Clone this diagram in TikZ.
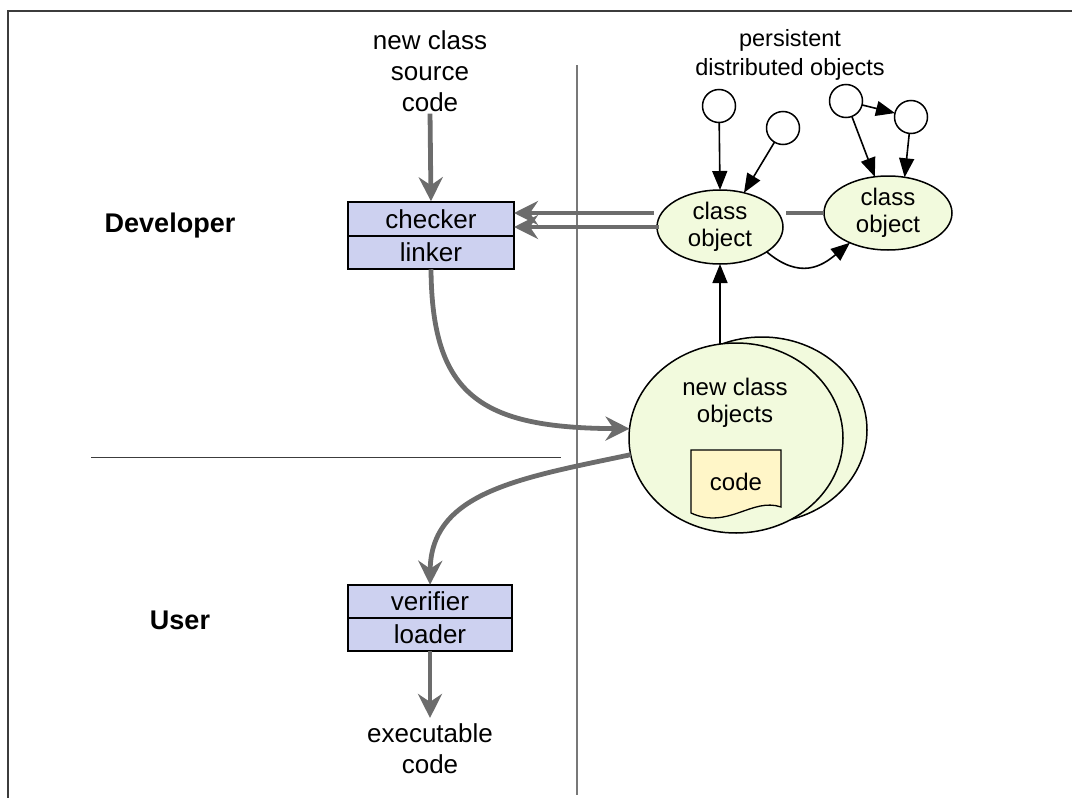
\documentclass[tikz,border=0pt]{standalone}
\usepackage{fontspec}
\setmainfont{Liberation Sans}
\usetikzlibrary{arrows.meta,shapes.geometric,calc}
\definecolor{boxfill}{RGB}{205,209,240}
\definecolor{ovalfill}{RGB}{242,250,221}
\definecolor{docfill}{RGB}{255,246,200}
\definecolor{flowgray}{RGB}{108,108,108}
\definecolor{rulegray}{RGB}{120,120,120}
\definecolor{framegray}{RGB}{60,60,60}

\begin{document}
\begin{tikzpicture}[x=1pt,y=-1pt,
  every node/.style={inner sep=0pt,outer sep=0pt},
  bigtxt/.style={font=\fontsize{26}{31}\selectfont,align=center},
  ovaltxt/.style={font=\fontsize{24}{27.5}\selectfont,align=center},
  role/.style={font=\fontsize{27}{31}\selectfont\bfseries},
  stagebox/.style={draw=black,line width=2pt,fill=boxfill,
    minimum width=166pt,minimum height=33.5pt,font=\fontsize{26}{31}\selectfont},
  classoval/.style={ellipse,draw=black,line width=1.5pt,fill=ovalfill,
    minimum width=126pt,minimum height=74pt,ovaltxt},
  refdot/.style={circle,draw=black,line width=1.5pt,fill=white,minimum size=33pt},
  flow/.style={draw=flowgray,line width=4.8pt,
    -{Stealth[length=24pt,width=24pt,inset=8pt]}},
  link/.style={draw=black,line width=1.6pt,
    -{Triangle[length=19pt,width=15pt]}}
]
\useasboundingbox (0,0) rectangle (1072,798);

% frame and partitions
\draw[framegray,line width=1.5pt] (8,798) -- (8,11) -- (1072,11);
\draw[rulegray,line width=1.2pt] (577,65) -- (577,795);
\draw[framegray,line width=1pt] (91,457) -- (561,457);

% roles
\node[role] (dev) at (170,226) {Developer};
\node[role] (usr) at (180,620) {User};

% developer side
\node[bigtxt] (src) at (430,71) {new class\\source\\code};
\node[stagebox] (chk) at (431,219) {checker};
\node[stagebox] (lnk) at (431,252.5) {linker};

% user side
\node[stagebox,minimum width=164pt] (vrf) at (430,601.5) {verifier};
\node[stagebox,minimum width=164pt] (ldr) at (430,634.5) {loader};
\node[bigtxt] (exe) at (430,749) {executable\\code};

% persistent objects
\node[font=\fontsize{23.5}{29}\selectfont,align=center] (pers) at (790,55) {persistent\\distributed objects};
\node[refdot] (p1) at (719,106) {};
\node[refdot] (p2) at (783,128) {};
\node[refdot] (p3) at (846,101) {};
\node[refdot] (p4) at (911,117) {};
\node[classoval] (co1) at (720,227) {class\\object};
\node[classoval,minimum width=128pt] (co2) at (888,213) {class\\object};

% new class objects
\node[ellipse,draw=black,line width=1.5pt,fill=ovalfill,
  minimum width=210pt,minimum height=186pt] (bk) at (762,430) {};
\node[ellipse,draw=black,line width=1.5pt,fill=ovalfill,
  minimum width=214pt,minimum height=190pt] (nco) at (736,438) {};
\node[ovaltxt] (ncl) at (735,403) {new class\\objects};
\draw[fill=docfill,line width=1.3pt] (691,450) -- (781,450) -- (781,507)
  .. controls (752,497) and (728,530) .. (691,513) -- cycle;
\node[ovaltxt] (doc) at (736,482) {code};

% connectors
\draw[flow,shorten <=2pt,shorten >=1pt] (src.south) -- (chk.north);
\draw[flow,shorten >=6pt] (ldr.south) -- (exe.north);
\coordinate (hiA) at ($(co1.west)+(-3,-14)$);
\coordinate (loA) at ($(co1.west)+(2,0)$);
\draw[flow] (hiA) -- (hiA -| chk.east);
\draw[flow] (loA) -- (loA -| chk.east);
\draw[flowgray,line width=4.8pt] (co2.west -| co1.east) ++(3,0) -- (co2.west);
\draw[flow] (lnk.south) .. controls (432,395) and (480,428) .. (nco.175);
\draw[flow] (nco.189) .. controls (520,478) and (431,492) .. (vrf.north);

\draw[link] (p1) -- (co1.north);
\draw[link] (p2) -- (co1.55);
\draw[link] (p3) -- (co2.110);
\draw[link] (p4) -- (co2.65);
\draw[link] (p3) -- (p4);
\draw[link] (co1.-28) .. controls (800,280) and (822,266) .. (co2.218);
\coordinate (tail) at (720,344);
\draw[link] (tail) -- (co1.south);
\end{tikzpicture}
\end{document}
